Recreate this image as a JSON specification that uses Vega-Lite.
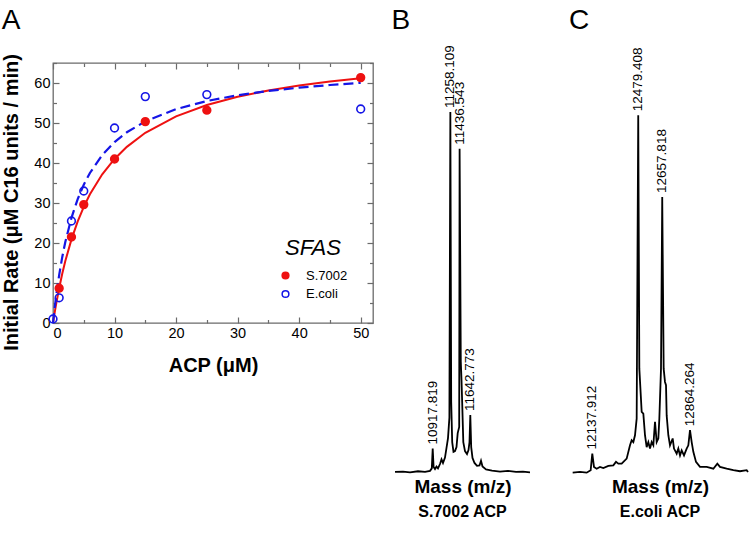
{
  "$schema": "https://vega.github.io/schema/vega-lite/v6.json",
  "background": "white",
  "padding": {"left": 1, "top": 5, "right": 0, "bottom": 0},
  "config": {
    "font": "Liberation Sans",
    "title": {"color": "black"},
    "axis": {"labelColor": "black", "titleColor": "black"},
    "legend": {"labelColor": "black", "titleColor": "black"}
  },
  "datasets": {
    "pts": [
      {"acp": 1, "rate": 8.7, "strain": "S.7002"},
      {"acp": 3, "rate": 21.5, "strain": "S.7002"},
      {"acp": 5, "rate": 29.6, "strain": "S.7002"},
      {"acp": 10, "rate": 41.0, "strain": "S.7002"},
      {"acp": 15, "rate": 50.35, "strain": "S.7002"},
      {"acp": 25, "rate": 53.2, "strain": "S.7002"},
      {"acp": 50, "rate": 61.35, "strain": "S.7002"},
      {"acp": 0, "rate": 1.0, "strain": "E.coli"},
      {"acp": 1, "rate": 6.3, "strain": "E.coli"},
      {"acp": 3, "rate": 25.5, "strain": "E.coli"},
      {"acp": 5, "rate": 33.0, "strain": "E.coli"},
      {"acp": 10, "rate": 48.75, "strain": "E.coli"},
      {"acp": 15, "rate": 56.6, "strain": "E.coli"},
      {"acp": 25, "rate": 57.1, "strain": "E.coli"},
      {"acp": 50, "rate": 53.5, "strain": "E.coli"}
    ],
    "fitS": [
      {"acp": 0, "rate": 0}, {"acp": 0.25, "rate": 2.40}, {"acp": 0.5, "rate": 4.64}, {"acp": 1, "rate": 8.70},
      {"acp": 1.5, "rate": 12.29}, {"acp": 2, "rate": 15.48}, {"acp": 3, "rate": 20.90}, {"acp": 4, "rate": 25.34},
      {"acp": 5, "rate": 29.03}, {"acp": 6, "rate": 32.17}, {"acp": 8, "rate": 37.18}, {"acp": 10, "rate": 41.01},
      {"acp": 12, "rate": 44.04}, {"acp": 15, "rate": 47.55}, {"acp": 20, "rate": 51.67}, {"acp": 25, "rate": 54.50},
      {"acp": 30, "rate": 56.56}, {"acp": 35, "rate": 58.14}, {"acp": 40, "rate": 59.38}, {"acp": 45, "rate": 60.38},
      {"acp": 50, "rate": 61.21}
    ],
    "fitE": [
      {"acp": 0, "rate": 0}, {"acp": 0.25, "rate": 3.47}, {"acp": 0.5, "rate": 6.59}, {"acp": 1, "rate": 11.98},
      {"acp": 1.5, "rate": 16.46}, {"acp": 2, "rate": 20.25}, {"acp": 3, "rate": 26.30}, {"acp": 4, "rate": 30.92},
      {"acp": 5, "rate": 34.57}, {"acp": 6, "rate": 37.51}, {"acp": 8, "rate": 41.99}, {"acp": 10, "rate": 45.23},
      {"acp": 12, "rate": 47.68}, {"acp": 15, "rate": 50.41}, {"acp": 20, "rate": 53.47}, {"acp": 25, "rate": 55.50},
      {"acp": 30, "rate": 56.94}, {"acp": 35, "rate": 58.01}, {"acp": 40, "rate": 58.84}, {"acp": 45, "rate": 59.50},
      {"acp": 50, "rate": 60.04}
    ],
    "specB": [
      {"mz": 10190.9, "intensity": 0},
      {"mz": 10345.2, "intensity": 0.1},
      {"mz": 10480.1, "intensity": -0.1},
      {"mz": 10634.4, "intensity": 0.2},
      {"mz": 10769.3, "intensity": 0},
      {"mz": 10865.7, "intensity": 0.3},
      {"mz": 10900.4, "intensity": 1.0},
      {"mz": 10917.819, "intensity": 6.5, "label": "10917.819"},
      {"mz": 10935.2, "intensity": 1.4},
      {"mz": 10962.1, "intensity": 0.8},
      {"mz": 10991.1, "intensity": 1.5},
      {"mz": 11020.0, "intensity": 1.0},
      {"mz": 11058.5, "intensity": 2.2},
      {"mz": 11087.5, "intensity": 3.5},
      {"mz": 11116.4, "intensity": 2.5},
      {"mz": 11154.9, "intensity": 4.0},
      {"mz": 11183.9, "intensity": 6.7},
      {"mz": 11212.8, "intensity": 9.4},
      {"mz": 11239.8, "intensity": 15.1},
      {"mz": 11258.109, "intensity": 100, "label": "11258.109"},
      {"mz": 11274.5, "intensity": 19.4},
      {"mz": 11293.8, "intensity": 8.3},
      {"mz": 11318.8, "intensity": 5.6},
      {"mz": 11347.7, "intensity": 5.8},
      {"mz": 11376.7, "intensity": 6.9},
      {"mz": 11399.8, "intensity": 10.8},
      {"mz": 11428.7, "intensity": 12.5},
      {"mz": 11436.543, "intensity": 89.8, "label": "11436.543"},
      {"mz": 11459.6, "intensity": 30.6},
      {"mz": 11473.1, "intensity": 25.6},
      {"mz": 11488.5, "intensity": 18.1},
      {"mz": 11507.8, "intensity": 8.3},
      {"mz": 11540.5, "intensity": 5.8},
      {"mz": 11579.1, "intensity": 5.0},
      {"mz": 11608.0, "intensity": 6.1},
      {"mz": 11627.3, "intensity": 8.3},
      {"mz": 11642.773, "intensity": 15.8, "label": "11642.773"},
      {"mz": 11660.1, "intensity": 6.9},
      {"mz": 11685.1, "intensity": 3.9},
      {"mz": 11723.7, "intensity": 2.5},
      {"mz": 11771.9, "intensity": 1.7},
      {"mz": 11820.1, "intensity": 1.8},
      {"mz": 11849.0, "intensity": 3.1},
      {"mz": 11877.9, "intensity": 1.5},
      {"mz": 11945.4, "intensity": 0.7},
      {"mz": 12061.1, "intensity": 0.4},
      {"mz": 12215.3, "intensity": 0.1},
      {"mz": 12369.6, "intensity": 0.3},
      {"mz": 12523.8, "intensity": 0},
      {"mz": 12658.8, "intensity": 0.1},
      {"mz": 12793.8, "intensity": -0.1}
    ],
    "specC": [
      {"mz": 11992.0, "intensity": -0.2},
      {"mz": 12046.4, "intensity": 0},
      {"mz": 12096.0, "intensity": -0.2},
      {"mz": 12125.8, "intensity": 0.5},
      {"mz": 12137.912, "intensity": 5.1, "label": "12137.912"},
      {"mz": 12150.5, "intensity": 1.4},
      {"mz": 12170.4, "intensity": 0.9},
      {"mz": 12195.1, "intensity": 1.4},
      {"mz": 12219.9, "intensity": 1.1},
      {"mz": 12257.1, "intensity": 1.7},
      {"mz": 12294.3, "intensity": 1.85},
      {"mz": 12314.1, "intensity": 2.8},
      {"mz": 12331.4, "intensity": 2.3},
      {"mz": 12356.3, "intensity": 2.3},
      {"mz": 12393.4, "intensity": 3.7},
      {"mz": 12418.2, "intensity": 7.4},
      {"mz": 12430.6, "intensity": 8.8},
      {"mz": 12443.0, "intensity": 8.3},
      {"mz": 12455.4, "intensity": 10.2},
      {"mz": 12467.8, "intensity": 14.8},
      {"mz": 12479.408, "intensity": 99.1, "label": "12479.408"},
      {"mz": 12487.6, "intensity": 28.7},
      {"mz": 12505.0, "intensity": 16.7},
      {"mz": 12517.3, "intensity": 16.2},
      {"mz": 12529.7, "intensity": 10.2},
      {"mz": 12542.1, "intensity": 6.9},
      {"mz": 12554.5, "intensity": 8.3},
      {"mz": 12566.9, "intensity": 6.5},
      {"mz": 12579.3, "intensity": 8.3},
      {"mz": 12591.7, "intensity": 7.4},
      {"mz": 12604.1, "intensity": 13.9},
      {"mz": 12616.5, "intensity": 8.3},
      {"mz": 12628.8, "intensity": 9.3},
      {"mz": 12636.3, "intensity": 14.8},
      {"mz": 12648.7, "intensity": 28.7},
      {"mz": 12657.818, "intensity": 76.4, "label": "12657.818"},
      {"mz": 12668.5, "intensity": 28.7},
      {"mz": 12678.4, "intensity": 25.0},
      {"mz": 12685.9, "intensity": 24.1},
      {"mz": 12690.8, "intensity": 15.7},
      {"mz": 12703.2, "intensity": 10.2},
      {"mz": 12715.6, "intensity": 7.4},
      {"mz": 12735.5, "intensity": 9.3},
      {"mz": 12745.3, "intensity": 6.5},
      {"mz": 12765.2, "intensity": 5.1},
      {"mz": 12777.5, "intensity": 6.5},
      {"mz": 12790.0, "intensity": 4.6},
      {"mz": 12802.4, "intensity": 6.0},
      {"mz": 12819.7, "intensity": 4.6},
      {"mz": 12839.5, "intensity": 6.5},
      {"mz": 12851.9, "intensity": 7.4},
      {"mz": 12864.264, "intensity": 11.6, "label": "12864.264"},
      {"mz": 12876.7, "intensity": 8.3},
      {"mz": 12889.1, "intensity": 5.6},
      {"mz": 12908.9, "intensity": 2.8},
      {"mz": 12938.6, "intensity": 1.4},
      {"mz": 12988.2, "intensity": 1.4},
      {"mz": 13037.8, "intensity": 0.9},
      {"mz": 13067.5, "intensity": 2.3},
      {"mz": 13087.3, "intensity": 1.4},
      {"mz": 13136.9, "intensity": 0.9},
      {"mz": 13186.5, "intensity": 0.5},
      {"mz": 13236.1, "intensity": 0.2},
      {"mz": 13285.6, "intensity": 0.5},
      {"mz": 13295.5, "intensity": 0}
    ]
  },
  "spacing": 35,
  "resolve": {"scale": {"stroke": "independent", "fill": "independent"}, "legend": {"stroke": "independent", "fill": "independent"}},
  "hconcat": [
    {
      "spacing": 16,
      "resolve": {"scale": {"stroke": "independent", "fill": "independent"}, "legend": {"stroke": "independent", "fill": "independent"}},
      "hconcat": [
        {
          "title": {"text": "A", "anchor": "start", "frame": "bounds", "fontSize": 28, "fontWeight": "normal", "offset": 19},
          "width": 320,
          "height": 260,
          "view": {"stroke": "#6b6b6b", "strokeWidth": 1.3},
          "resolve": {"axis": {"x": "independent", "y": "independent"}},
          "layer": [
            {
              "data": {"name": "fitS"},
              "mark": {"type": "line", "color": "#ee1111", "strokeWidth": 2},
              "encoding": {
                "x": {"field": "acp", "type": "quantitative", "scale": {"domain": [0, 52], "nice": false},
                  "axis": {"orient": "bottom", "values": [0, 5, 10, 15, 20, 25, 30, 35, 40, 45, 50], "domain": false, "grid": false,
                    "tickColor": "#6b6b6b", "tickWidth": 1.2,
                    "tickSize": {"condition": {"test": "datum.value % 10 === 0", "value": -6}, "value": -3.5},
                    "labelExpr": "datum.value % 10 === 0 ? datum.label : ''",
                    "labelFontSize": 14.5, "labelPadding": 9,
                    "title": "ACP (μM)", "titleFontSize": 20, "titleFontWeight": "bold", "titlePadding": 16}},
                "y": {"field": "rate", "type": "quantitative", "scale": {"domain": [0, 65], "nice": false},
                  "axis": {"orient": "left", "values": [0, 5, 10, 15, 20, 25, 30, 35, 40, 45, 50, 55, 60, 65], "domain": false, "grid": false,
                    "tickColor": "#6b6b6b", "tickWidth": 1.2,
                    "tickSize": {"condition": {"test": "datum.value % 10 === 0", "value": -6}, "value": -3.5},
                    "labelExpr": "datum.value % 10 === 0 ? datum.label : ''",
                    "labelFontSize": 14.5, "labelPadding": 9,
                    "title": "Initial Rate (μM C16 units / min)", "titleFontSize": 20, "titleFontWeight": "bold", "titlePadding": 12,
                    "titleY": 139}}
              }
            },
            {
              "data": {"name": "fitE"},
              "mark": {"type": "line", "color": "#1515e6", "strokeWidth": 2.2, "strokeDash": [10, 5]},
              "encoding": {
                "x": {"field": "acp", "type": "quantitative",
                  "axis": {"orient": "top", "values": [0, 5, 10, 15, 20, 25, 30, 35, 40, 45, 50], "domain": false, "grid": false, "labels": false, "title": null,
                    "tickColor": "#6b6b6b", "tickWidth": 1.2,
                    "tickSize": {"condition": {"test": "datum.value % 10 === 0", "value": -6}, "value": -3.5}}},
                "y": {"field": "rate", "type": "quantitative",
                  "axis": {"orient": "right", "values": [0, 5, 10, 15, 20, 25, 30, 35, 40, 45, 50, 55, 60, 65], "domain": false, "grid": false, "labels": false, "title": null,
                    "tickColor": "#6b6b6b", "tickWidth": 1.2,
                    "tickSize": {"condition": {"test": "datum.value % 10 === 0", "value": -6}, "value": -3.5}}}
              }
            },
            {
              "data": {"name": "pts"},
              "mark": {"type": "point", "shape": "circle", "size": 60, "strokeWidth": 1.6, "opacity": 1},
              "encoding": {
                "x": {"field": "acp", "type": "quantitative", "axis": null},
                "y": {"field": "rate", "type": "quantitative", "axis": null},
                "stroke": {"field": "strain", "type": "nominal",
                  "scale": {"domain": ["S.7002", "E.coli"], "range": ["#ee1111", "#1515e6"]},
                  "legend": {"title": "SFAS", "orient": "none", "legendX": 226, "legendY": 175, "titleFontSize": 22, "titleFontStyle": "italic", "titleFontWeight": "normal",
                    "titleAnchor": "middle", "titlePadding": 9, "labelFontSize": 13, "labelOffset": 14, "symbolSize": 45, "symbolStrokeWidth": 1.5, "rowPadding": 4.5}},
                "fill": {"field": "strain", "type": "nominal",
                  "scale": {"domain": ["S.7002", "E.coli"], "range": ["#ee1111", "transparent"]},
                  "legend": {"title": "SFAS", "orient": "none", "legendX": 226, "legendY": 175, "titleFontSize": 22, "titleFontStyle": "italic", "titleFontWeight": "normal",
                    "titleAnchor": "middle", "titlePadding": 9, "labelFontSize": 13, "labelOffset": 14, "symbolSize": 45, "symbolStrokeWidth": 1.5, "rowPadding": 4.5}}
              }
            }
          ]
        },
        {
          "title": {"text": "B", "anchor": "start", "fontSize": 28, "fontWeight": "normal", "offset": 10},
          "vconcat": [
            {
              "width": 135,
              "height": 414,
              "view": {"stroke": null},
              "title": {"text": "S.7002 ACP", "orient": "bottom", "anchor": "middle", "fontSize": 16, "fontWeight": "bold", "offset": 8},
              "data": {"name": "specB"},
              "encoding": {
                "x": {"field": "mz", "type": "quantitative", "scale": {"domain": [10190.9, 12793.8], "nice": false, "zero": false},
                  "axis": {"title": "Mass (m/z)", "domain": false, "ticks": false, "labels": false, "grid": false,
                    "titleFontSize": 19, "titleFontWeight": "bold", "titlePadding": 0}},
                "y": {"field": "intensity", "type": "quantitative", "scale": {"domain": [-1.4, 113.6], "nice": false, "zero": false}, "axis": null}
              },
              "layer": [
                {"mark": {"type": "line", "color": "black", "strokeWidth": 1.8}},
                {
                  "transform": [{"filter": "isValid(datum.label)"}],
                  "mark": {"type": "text", "angle": 270, "align": "left", "baseline": "middle", "dx": 4, "fontSize": 13.5, "color": "black"},
                  "encoding": {"text": {"field": "label"}}
                }
              ]
            }
          ]
        }
      ]
    },
    {
      "title": {"text": "C", "anchor": "start", "fontSize": 28, "fontWeight": "normal", "offset": 12},
      "vconcat": [
        {
          "width": 176,
          "height": 414,
          "view": {"stroke": null},
          "title": {"text": "E.coli ACP", "orient": "bottom", "anchor": "middle", "fontSize": 16, "fontWeight": "bold", "offset": 8},
          "data": {"name": "specC"},
          "encoding": {
            "x": {"field": "mz", "type": "quantitative", "scale": {"domain": [11987, 13295.5], "nice": false, "zero": false},
              "axis": {"title": "Mass (m/z)", "domain": false, "ticks": false, "labels": false, "grid": false,
                "titleFontSize": 19, "titleFontWeight": "bold", "titlePadding": 0}},
            "y": {"field": "intensity", "type": "quantitative", "scale": {"domain": [-1.4, 113.6], "nice": false, "zero": false}, "axis": null}
          },
          "layer": [
            {"mark": {"type": "line", "color": "black", "strokeWidth": 1.8}},
            {
              "transform": [{"filter": "isValid(datum.label)"}],
              "mark": {"type": "text", "angle": 270, "align": "left", "baseline": "middle", "dx": 4, "fontSize": 13.5, "color": "black"},
              "encoding": {"text": {"field": "label"}}
            }
          ]
        }
      ]
    }
  ]
}
